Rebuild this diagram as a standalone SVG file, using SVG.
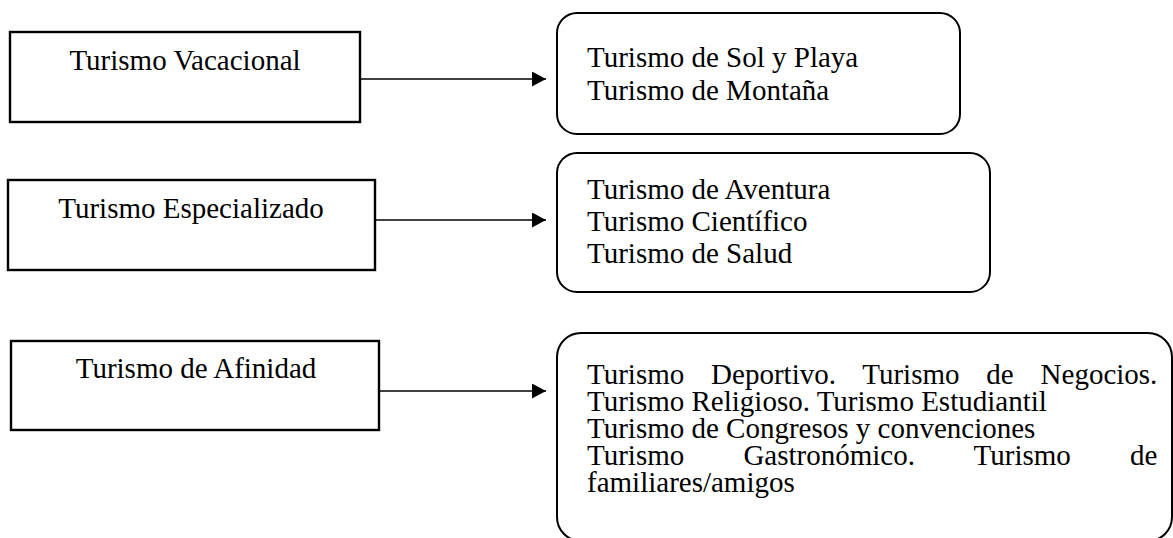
<svg xmlns="http://www.w3.org/2000/svg" width="1173" height="538" viewBox="0 0 1173 538">
<style>
.box{fill:#fff;stroke:#000;stroke-width:2.4}
.rbox{fill:#fff;stroke:#000;stroke-width:2}
text{font-family:'Liberation Serif','Times New Roman','DejaVu Serif',serif;font-size:29px;fill:#000}
.c{text-anchor:middle}
.conn{stroke:#000;stroke-width:1.5;fill:none}
</style>
<defs>
<marker id="ah" markerUnits="userSpaceOnUse" markerWidth="16" markerHeight="16" refX="14" refY="7.5" orient="auto">
<path d="M0,0 L14,7.5 L0,15 Z" fill="#000"/>
</marker>
</defs>
<rect width="1173" height="538" fill="#fff"/>
<g id="connectors">
<line class="conn" x1="360" y1="79" x2="546" y2="79" marker-end="url(#ah)"/>
<line class="conn" x1="375" y1="220" x2="546" y2="220" marker-end="url(#ah)"/>
<line class="conn" x1="379" y1="391" x2="546" y2="391" marker-end="url(#ah)"/>
</g>
<g id="vacacional">
<rect class="box" x="10" y="32" width="350" height="90"/>
<text class="c" x="185" y="70">Turismo Vacacional</text>
</g>
<g id="especializado">
<rect class="box" x="8" y="180" width="367" height="90"/>
<text class="c" x="191" y="218">Turismo Especializado</text>
</g>
<g id="afinidad">
<rect class="box" x="11" y="341" width="368" height="89"/>
<text class="c" x="196" y="378">Turismo de Afinidad</text>
</g>
<g id="vacacional-tipos">
<rect class="rbox" x="557" y="13" width="403" height="121" rx="20" ry="20"/>
<text x="587" y="67">Turismo de Sol y Playa</text>
<text x="587" y="100">Turismo de Montaña</text>
</g>
<g id="especializado-tipos">
<rect class="rbox" x="557" y="153" width="433" height="139" rx="20" ry="20"/>
<text x="587" y="199">Turismo de Aventura</text>
<text x="587" y="231">Turismo Científico</text>
<text x="587" y="263">Turismo de Salud</text>
</g>
<g id="afinidad-tipos">
<rect class="rbox" x="557" y="333" width="615" height="208" rx="24" ry="24"/>
<text x="587" y="384" style="word-spacing:19.6px">Turismo Deportivo. Turismo de Negocios.</text>
<text x="587" y="411">Turismo Religioso. Turismo Estudiantil</text>
<text x="587" y="438">Turismo de Congresos y convenciones</text>
<text x="587" y="465" style="word-spacing:51.9px">Turismo Gastronómico. Turismo de</text>
<text x="587" y="492">familiares/amigos</text>
</g>
</svg>
